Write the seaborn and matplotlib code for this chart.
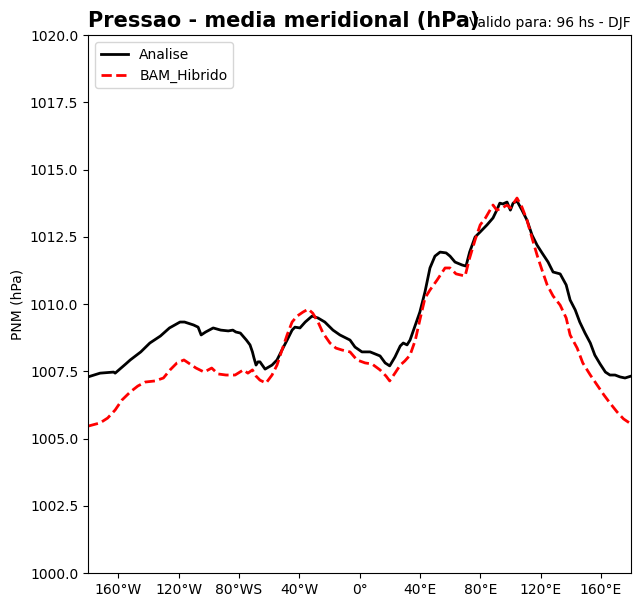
import numpy as np
import pandas as pd
import matplotlib
matplotlib.use('Agg')
import matplotlib.pyplot as plt
import seaborn as sns

# Analise (black) - longitude / pressure
lon_analise = [-180, -172, -163, -162, -155, -152, -145, -139, -132, -126, -119, -116,
               -110, -107, -105, -102, -97, -92, -87, -84, -82, -79, -75, -72.6, -71,
               -70, -68.6, -67.3, -66, -62.6, -58, -54.7, -51.4, -48, -44.7, -42.8,
               -39.5, -36, -31.5, -27.5, -23, -17.6, -13, -6.3, -3, 1.6, 7, 13.6, 17,
               20, 23.5, 27, 29, 31.5, 33.5, 37, 40, 43.4, 46.7, 50, 53.4, 57.4, 60,
               63.3, 68, 70.6, 73, 76.6, 80, 84.5, 88.5, 91, 93, 95, 97.8, 100, 101.8,
               104.4, 107.7, 111, 114.4, 117.7, 121, 125, 128.3, 133, 137, 139.6, 143,
               146, 149.5, 153, 156, 159.5, 163, 166, 169.4, 172.7, 176, 180]
pnm_analise = [1007.29, 1007.43, 1007.47, 1007.43, 1007.77, 1007.92, 1008.22, 1008.55,
               1008.81, 1009.11, 1009.33, 1009.33, 1009.22, 1009.14, 1008.85, 1008.96,
               1009.11, 1009.03, 1009.0, 1009.03, 1008.96, 1008.92, 1008.66, 1008.48,
               1008.22, 1008.0, 1007.73, 1007.85, 1007.85, 1007.58, 1007.73, 1007.92,
               1008.29, 1008.66, 1009.03, 1009.14, 1009.11, 1009.33, 1009.55, 1009.48,
               1009.33, 1009.03, 1008.85, 1008.66, 1008.40, 1008.22, 1008.22, 1008.07,
               1007.81, 1007.70, 1008.03, 1008.44, 1008.55, 1008.48, 1008.66, 1009.22,
               1009.70, 1010.45, 1011.34, 1011.78, 1011.93, 1011.9, 1011.78, 1011.56,
               1011.45, 1011.41, 1011.93, 1012.49, 1012.68, 1012.94, 1013.2, 1013.49,
               1013.75, 1013.72, 1013.79, 1013.49, 1013.75, 1013.83, 1013.49, 1013.12,
               1012.56, 1012.19, 1011.9, 1011.56, 1011.19, 1011.12, 1010.71, 1010.15,
               1009.78, 1009.33, 1008.92, 1008.55, 1008.1, 1007.77, 1007.47, 1007.36,
               1007.36, 1007.29, 1007.25, 1007.32]

# BAM_Hibrido (red dashed)
lon_bam = [-180, -172, -167, -162, -157.5, -152, -147, -142, -135.6, -130, -125.6, -121,
           -116.4, -112.4, -108.4, -103, -98, -93.8, -88.5, -82.5, -77, -74, -71, -68.6,
           -66, -62, -58, -54.7, -51.4, -48, -44.7, -41.4, -37.5, -34, -31, -27.5, -24.2,
           -19.6, -15.6, -11.6, -6.3, -1.7, 3.7, 8.3, 13.6, 17.6, 20, 23.5, 27, 30, 33.5,
           37, 40, 43.4, 46.7, 51.4, 56.7, 60, 64, 70, 73, 76.6, 80, 83.5, 86.5, 88.5, 91,
           94.5, 97.8, 100, 101.8, 104.4, 107.7, 111, 114.4, 117.7, 121, 124.4, 128.3, 133,
           137, 139.6, 144.3, 148, 153, 157.5, 162, 166, 170.7, 175, 180]
pnm_bam = [1005.46, 1005.58, 1005.76, 1006.06, 1006.43, 1006.73, 1006.95, 1007.10,
           1007.14, 1007.25, 1007.55, 1007.81, 1007.92, 1007.77, 1007.62, 1007.47,
           1007.62, 1007.40, 1007.36, 1007.36, 1007.55, 1007.43, 1007.55, 1007.32,
           1007.17, 1007.06, 1007.36, 1007.73, 1008.29, 1008.85, 1009.33, 1009.55,
           1009.70, 1009.81, 1009.66, 1009.33, 1008.92, 1008.55, 1008.36, 1008.29,
           1008.22, 1007.92, 1007.81, 1007.77, 1007.55, 1007.32, 1007.14, 1007.43,
           1007.73, 1007.88, 1008.1, 1008.66, 1009.41, 1010.22, 1010.52, 1010.89,
           1011.34, 1011.34, 1011.12, 1011.04, 1011.71, 1012.38, 1012.94, 1013.2,
           1013.49, 1013.68, 1013.49, 1013.57, 1013.68, 1013.57, 1013.72, 1013.94,
           1013.6, 1013.12, 1012.45, 1011.82, 1011.26, 1010.71, 1010.30, 1009.96,
           1009.48, 1008.85, 1008.36, 1007.81, 1007.36, 1006.99, 1006.62, 1006.32,
           1005.99, 1005.73, 1005.54]

xtick_pos = [-160, -120, -80, -40, 0, 40, 80, 120, 160]
xtick_lab = ['160°W', '120°W', '80°WS', '40°W', '0°', '40°E', '80°E', '120°E', '160°E']

fig = plt.figure(figsize=(6.4, 6.07), dpi=100)
ax = fig.add_axes([0.1375, 0.056, 0.8485, 0.8863])

sns.lineplot(x=lon_analise, y=pnm_analise, ax=ax, color='black', linewidth=2,
             label='Analise', estimator=None, sort=False)
sns.lineplot(x=lon_bam, y=pnm_bam, ax=ax, color='red', linewidth=2, linestyle='--',
             label='BAM_Hibrido', estimator=None, sort=False)

ax.set_xlim(-180, 180)
ax.set_ylim(1000, 1020)
ax.set_xticks(xtick_pos)
ax.set_xticklabels(xtick_lab)
ax.set_yticks(np.arange(1000, 1020.1, 2.5))
ax.set_yticklabels([f'{v:.1f}' for v in np.arange(1000, 1020.1, 2.5)])
ax.set_ylabel('PNM (hPa)')
ax.set_xlabel('')
ax.legend(loc='upper left')

ax.set_title('Pressao - media meridional (hPa)', loc='left', fontsize=15, fontweight='bold')
ax.set_title('Valido para: 96 hs - DJF', loc='right', fontsize=10)

fig.savefig('out.png', dpi=100)
